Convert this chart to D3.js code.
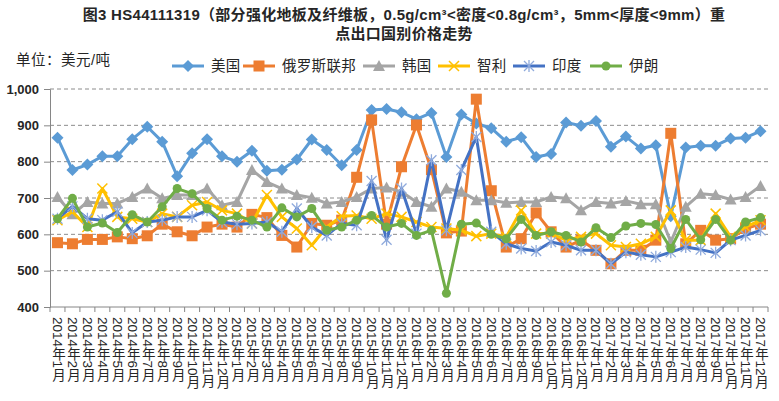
<!DOCTYPE html>
<html><head><meta charset="utf-8">
<script src="https://cdn.jsdelivr.net/npm/d3@7"></script>
<style>
body{margin:0;background:#fff;}
svg{display:block;font-family:"Liberation Sans","Noto Sans CJK SC",sans-serif;}
</style></head>
<body><svg id="c" width="779" height="401"></svg>
<script>
const years = ["2014","2015","2016","2017"];
const monthNums = ["1","2","3","4","5","6","7","8","9","10","11","12"];
const categories = [];
years.forEach(y => monthNums.forEach(m => categories.push(y + "年" + m + "月")));

const yTicks = [400,500,600,700,800,900,1000];

const usa    = [866,777,792,815,815,862,896,855,760,823,862,815,800,830,775,778, 806,861,832,790,832,942,945,936,917,934,813,930,905,892,855,867, 813,821,908,899,912,841,869,836,845,650,839,844,844,864,866,884];
const russia = [577,574,586,586,593,588,596,628,607,596,620,628,620,655,646,597, 565,630,625,639,757,915,628,786,901,778,604,609,972,720,565,588, 659,607,565,584,556,519,556,556,584,878,574,611,584,588,616,628];
const korea  = [703,655,689,685,685,703,726,699,708,708,726,680,689,777,744,726, 708,701,685,689,703,726,729,717,689,676,726,717,694,694,687,689, 689,703,699,666,689,685,692,683,683,579,676,712,708,696,703,733];
const chile  = [639,662,620,726,648,643,634,657,648,680,689,666,657,630,708,648, 616,570,620,650,652,643,657,648,634,620,616,611,595,602,593,666, 602,602,584,593,602,570,565,574,593,666,584,584,657,593,620,639];
const india  = [643,677,643,639,662,604,634,639,648,648,666,634,628,630,634,607, 671,620,597,630,625,747,585,726,602,804,611,777,868,607,574,561, 554,579,570,556,556,519,551,544,538,551,565,558,549,584,597,611];
const iran   = [643,699,620,631,605,654,634,676,726,712,671,639,650,639,620,673, 648,671,611,620,639,652,620,630,597,611,438,628,631,600,588,641, 597,607,597,579,618,591,623,630,627,561,641,585,641,584,634,646];

const seriesNames = ["美国","俄罗斯联邦","韩国","智利","印度","伊朗"];
const seriesData = [usa, russia, korea, chile, india, iran];
const colors = ["#5B9BD5","#ED7D31","#A5A5A5","#FFC000","#4472C4","#70AD47"];
const markers = ["diamond","square","triangle","x","star","circle"];

const svg = d3.select("#c");
const L = 50, R = 768, T = 89, B = 307;

const x = d3.scaleBand().domain(categories).range([L, R]);
const y = d3.scaleLinear().domain([400, 1000]).range([B, T]);

// title
const title = svg.append("g").attr("font-weight","bold").attr("font-size",15).attr("fill","#262626")
  .attr("letter-spacing",0.3)
  .attr("font-family","'Liberation Sans','Noto Sans CJK SC',sans-serif").attr("text-anchor","middle");
title.append("text").attr("x",404).attr("y",20).text("图3 HS44111319（部分强化地板及纤维板，0.5g/cm³<密度<0.8g/cm³，5mm<厚度<9mm）重");
title.append("text").attr("x",404).attr("y",39).text("点出口国别价格走势");

svg.append("text").attr("x",16).attr("y",65).attr("font-size",14.5).attr("letter-spacing",0.5).attr("fill","#262626").text("单位：美元/吨");

// grid
svg.append("g").selectAll("line").data(yTicks.filter(d=>d>400)).join("line")
  .attr("x1",L).attr("x2",R).attr("y1",d=>y(d)).attr("y2",d=>y(d))
  .attr("stroke","#8c8c8c").attr("stroke-dasharray","4,3").attr("stroke-width",1);

// y axis
const yAxis = d3.axisLeft(y).tickValues(yTicks).tickSize(6).tickFormat(d3.format(","));
const yg = svg.append("g").attr("transform",`translate(${L},0)`).call(yAxis);
yg.select(".domain").attr("stroke","#868686");
yg.selectAll(".tick line").attr("stroke","#868686");
yg.selectAll(".tick text").attr("font-size",13).attr("font-weight","bold").attr("fill","#262626").attr("x",-11)
  .attr("font-family","'Liberation Sans',sans-serif");

// x axis
const xg = svg.append("g").attr("transform",`translate(0,${B})`);
xg.append("line").attr("x1",L).attr("x2",R).attr("stroke","#868686");
xg.selectAll("line.t").data(d3.range(categories.length+1)).join("line").attr("class","t")
  .attr("x1",i=>L + i*x.step()).attr("x2",i=>L + i*x.step()).attr("y1",0).attr("y2",5).attr("stroke","#868686");
xg.selectAll("text").data(categories).join("text")
  .attr("transform",d=>`translate(${x(d)+x.bandwidth()/2},10)`)
  .style("writing-mode","vertical-rl")
  .attr("font-size",13.5).attr("fill","#262626")
  .attr("font-family","'Liberation Sans','Noto Sans CJK SC',sans-serif")
  .text(d=>d);

function drawMarker(g, type, color, cx, cy){
  if(type==="diamond"){
    g.append("path").attr("d",`M${cx},${cy-6}L${cx+6},${cy}L${cx},${cy+6}L${cx-6},${cy}Z`).attr("fill",color);
  } else if(type==="square"){
    g.append("rect").attr("x",cx-5.5).attr("y",cy-5.5).attr("width",11).attr("height",11).attr("fill",color);
  } else if(type==="triangle"){
    g.append("path").attr("d",`M${cx},${cy-6}L${cx+6},${cy+5}L${cx-6},${cy+5}Z`).attr("fill",color);
  } else if(type==="x"){
    g.append("path").attr("d",`M${cx-5},${cy-5}L${cx+5},${cy+5}M${cx-5},${cy+5}L${cx+5},${cy-5}`).attr("stroke",color).attr("stroke-width",1.5);
  } else if(type==="star"){
    g.append("path").attr("d",`M${cx-5},${cy-5}L${cx+5},${cy+5}M${cx-5},${cy+5}L${cx+5},${cy-5}M${cx},${cy-6}L${cx},${cy+6}`).attr("stroke","#8FAADC").attr("stroke-width",1.3);
  } else if(type==="circle"){
    g.append("circle").attr("cx",cx).attr("cy",cy).attr("r",4.5).attr("fill",color);
  }
}

const line = d3.line().x((d,i)=>x(categories[i])+x.bandwidth()/2).y(d=>y(d));
seriesData.forEach((data, s) => {
  const g = svg.append("g");
  g.append("path").datum(data).attr("d",line).attr("fill","none").attr("stroke",colors[s])
    .attr("stroke-width",3).attr("stroke-linejoin","round");
  data.forEach((v,i)=>drawMarker(g, markers[s], colors[s], x(categories[i])+x.bandwidth()/2, y(v)));
});

// legend
const legX = [172,243,363,438,513,590];
const lg = svg.append("g");
seriesNames.forEach((n,s)=>{
  const lx = legX[s], ly = 66;
  lg.append("line").attr("x1",lx).attr("x2",lx+32).attr("y1",ly).attr("y2",ly).attr("stroke",colors[s]).attr("stroke-width",3);
  drawMarker(lg, markers[s], colors[s], lx+16, ly);
  lg.append("text").attr("x",lx+39).attr("y",ly+5).attr("font-size",14.5).attr("letter-spacing",0.3).attr("fill","#262626").text(n);
});
</script></body></html>
